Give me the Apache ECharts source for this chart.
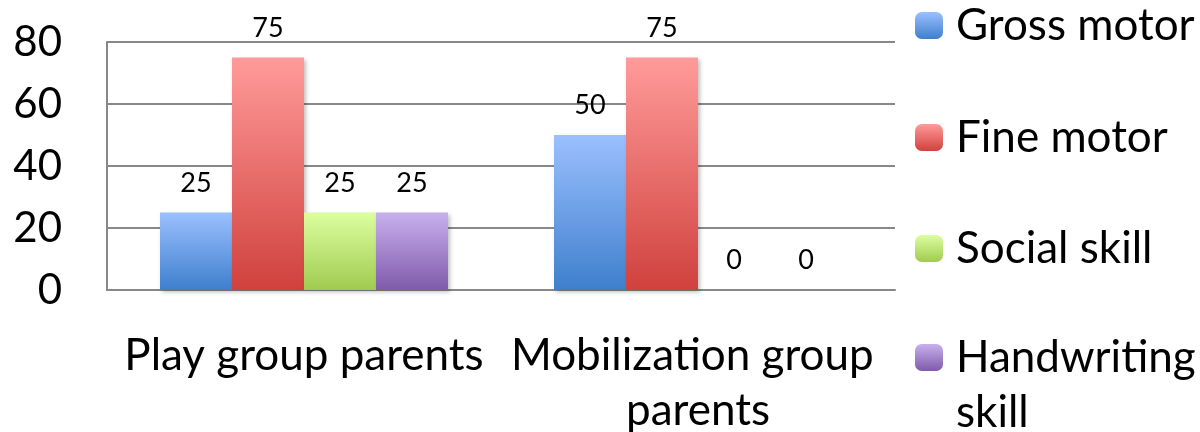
<!DOCTYPE html>
<html>
<head>
<meta charset="utf-8">
<script src="https://cdn.jsdelivr.net/npm/echarts@6/dist/echarts.min.js"></script>
<style>
html,body{margin:0;padding:0;background:#fff;}
#chart{width:1200px;height:432px;}
</style>
</head>
<body>
<div id="chart"></div>
<script>
const categories = ['Play group parents', 'Mobilization group parents'];
const seriesNames = ['Gross motor', 'Fine motor', 'Social skill', 'Handwriting skill'];
const grossMotor = [25, 50];
const fineMotor = [75, 75];
const socialSkill = [25, 0];
const handwritingSkill = [25, 0];
const yTicks = [0, 20, 40, 60, 80];

const seriesValues = [grossMotor, fineMotor, socialSkill, handwritingSkill];
const gradients = [
  ['#9BC0FF', '#3E7FCD'],
  ['#FF9B9A', '#D0413D'],
  ['#DCFFA0', '#A0CB50'],
  ['#C8B0EE', '#7F5BAA']
];
const FONT = 'Lato';

function grad(c) {
  return new echarts.graphic.LinearGradient(0, 0, 0, 1, [
    { offset: 0, color: c[0] },
    { offset: 1, color: c[1] }
  ]);
}

const legendTops = [3.5, 115.5, 226.5, 275];
const legends = seriesNames.map((n, i) => {
  const last = i === seriesNames.length - 1;
  return {
    data: [n],
    left: 915,
    top: legendTops[i],
    padding: 0,
    orient: 'vertical',
    itemWidth: 28,
    itemHeight: 27,
    selectedMode: false,
    formatter: last ? '\nHandwriting\nskill' : '{name}',
    textStyle: {
      fontFamily: FONT,
      fontSize: 44,
      color: '#000',
      lineHeight: last ? 55 : 40,
      padding: [0, 0, 0, 8]
    }
  };
});

const chart = echarts.init(document.getElementById('chart'));
chart.setOption({
  animation: false,
  backgroundColor: '#fff',
  legend: legends,
  grid: { left: 107, right: 305, top: 42, bottom: 142, containLabel: false, outerBoundsMode: 'none' },
  xAxis: {
    type: 'category',
    data: categories,
    axisTick: { show: false },
    axisLine: { show: true, lineStyle: { color: '#888', width: 2 } },
    axisLabel: {
      interval: 0,
      fontFamily: FONT,
      fontSize: 44,
      color: '#000',
      lineHeight: 55,
      margin: 38,
      width: 390,
      overflow: 'break'
    }
  },
  yAxis: {
    type: 'value',
    min: yTicks[0],
    max: yTicks[yTicks.length - 1],
    interval: yTicks[1] - yTicks[0],
    axisTick: { show: false },
    axisLine: { show: true, lineStyle: { color: '#888', width: 2 } },
    splitLine: { show: true, lineStyle: { color: '#888', width: 2 } },
    axisLabel: { fontFamily: FONT, fontSize: 42, color: '#000', margin: 45 }
  },
  series: seriesNames.map((n, i) => ({
    name: n,
    type: 'bar',
    data: seriesValues[i],
    barWidth: 72,
    barGap: '0%',
    itemStyle: {
      color: grad(gradients[i]),
      shadowBlur: 4,
      shadowOffsetX: 2,
      shadowOffsetY: 2,
      shadowColor: 'rgba(0,0,0,0.25)'
    },
    label: {
      show: true,
      position: 'top',
      distance: 16,
      fontFamily: FONT,
      fontSize: 27,
      color: '#000'
    }
  }))
});
</script>
</body>
</html>
